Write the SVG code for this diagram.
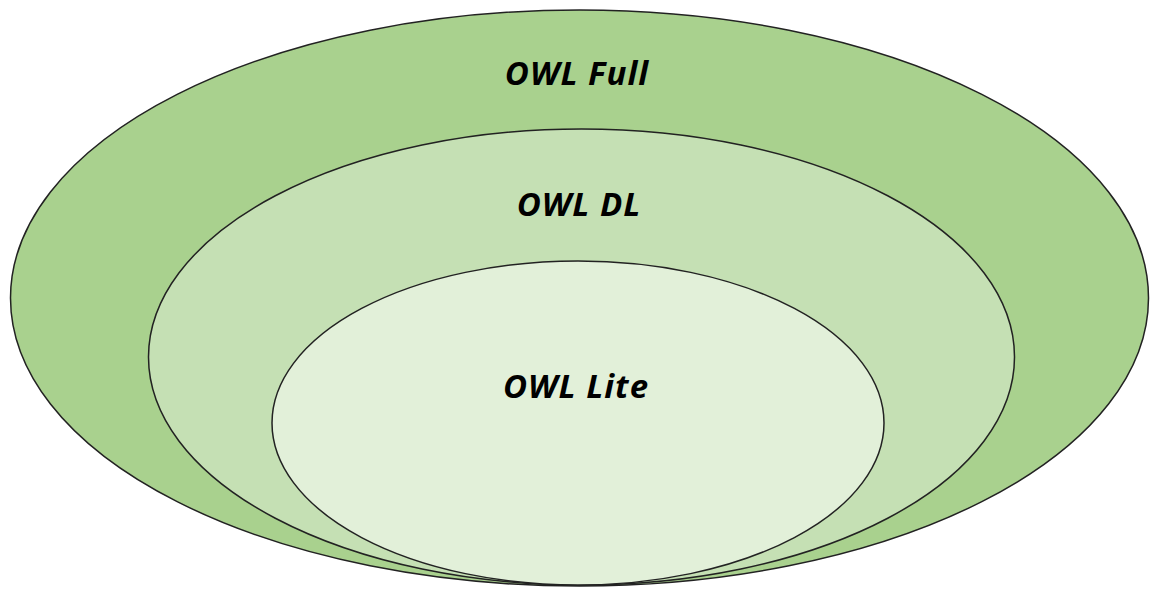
<svg xmlns="http://www.w3.org/2000/svg" width="1150" height="590" viewBox="0 0 1150 590">
<style>
.e{stroke:#222;stroke-width:1.5}
.t{font-family:"Open Sans","Liberation Sans",sans-serif;font-weight:bold;font-style:italic;font-size:33px;letter-spacing:1px;fill:#000;text-anchor:middle}
</style>
<rect width="1150" height="590" fill="#fff"/>
<g id="owl-full"><ellipse class="e" cx="579.5" cy="298" rx="569" ry="288" fill="#A9D18E"/><text class="t" x="577" y="85">OWL Full</text></g>
<g id="owl-dl"><ellipse class="e" cx="581.5" cy="357" rx="433" ry="228" fill="#C5E0B4"/><text class="t" x="579" y="216">OWL DL</text></g>
<g id="owl-lite"><ellipse class="e" cx="578" cy="423" rx="306" ry="162" fill="#E2F0D9"/><text class="t" x="576" y="398">OWL Lite</text></g>
</svg>
